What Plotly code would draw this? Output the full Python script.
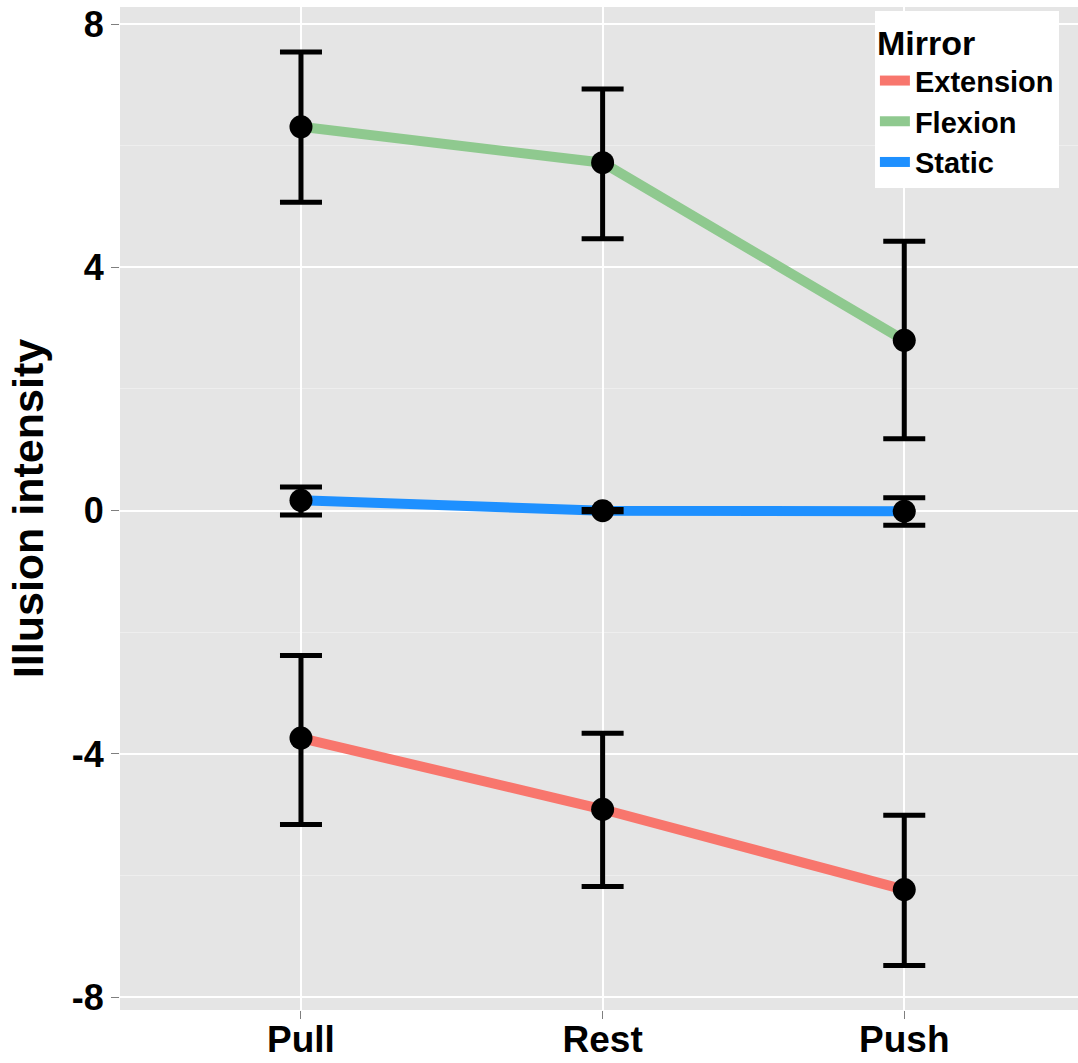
import plotly.graph_objects as go

conditions = ["Pull", "Rest", "Push"]
series = ["Extension", "Flexion", "Static"]
colors = {"Extension": "#F8766D", "Flexion": "#8FC98F", "Static": "#1E90FF"}

means = {
    "Extension": [-3.74, -4.91, -6.23],
    "Flexion": [6.31, 5.72, 2.80],
    "Static": [0.17, 0.0, -0.01],
}
err_upper = {
    "Extension": [-2.38, -3.66, -5.01],
    "Flexion": [7.54, 6.93, 4.43],
    "Static": [0.39, 0.02, 0.21],
}
err_lower = {
    "Extension": [-5.16, -6.18, -7.48],
    "Flexion": [5.07, 4.47, 1.18],
    "Static": [-0.07, -0.02, -0.24],
}
y_ticks = [-8, -4, 0, 4, 8]
y_ticklabels = ["-8", "-4", "0", "4", "8"]

FONT = "Liberation Sans"
fig = go.Figure()

for s in series:
    fig.add_trace(go.Scatter(
        x=conditions, y=means[s], mode="lines", name=s,
        line=dict(color=colors[s], width=10), showlegend=True,
    ))

for s in series:
    up = [u - m for u, m in zip(err_upper[s], means[s])]
    lo = [m - l for l, m in zip(err_lower[s], means[s])]
    fig.add_trace(go.Scatter(
        x=conditions, y=means[s], mode="markers", showlegend=False,
        marker=dict(color="black", size=23),
        error_y=dict(type="data", symmetric=False, array=up, arrayminus=lo,
                     color="black", thickness=5, width=21),
    ))

fig.update_layout(
    width=1078, height=1063,
    margin=dict(l=120, r=0, t=7, b=53),
    paper_bgcolor="white", plot_bgcolor="#E5E5E5",
    font=dict(family=FONT, color="black"),
    legend=dict(
        title=dict(text="<b>Mirror</b>", font=dict(size=34, family=FONT)),
        font=dict(size=29, family=FONT, weight="bold"),
        x=0.788, xanchor="left", y=0.996, yanchor="top",
        bgcolor="white", borderwidth=0, itemwidth=30,
    ),
    xaxis=dict(
        range=[-0.6, 2.576], showgrid=True, gridcolor="white", gridwidth=2,
        ticks="outside", ticklen=8, tickcolor="#7F7F7F", tickwidth=1,
        tickfont=dict(size=37, family=FONT, weight="bold"),
        ticklabelstandoff=-11,
        zeroline=False, showline=False, automargin=False,
    ),
    yaxis=dict(
        range=[-8.21, 8.28], tickvals=y_ticks, ticktext=y_ticklabels,
        showgrid=True, gridcolor="white", gridwidth=2,
        ticks="outside", ticklen=8, tickcolor="#7F7F7F", tickwidth=1,
        tickfont=dict(size=36, family=FONT, weight="bold"),
        minor=dict(tickvals=[-6, -2, 2, 6], showgrid=True, gridcolor="#EEEEEE", gridwidth=1, ticks=""),
        zeroline=False, showline=False, automargin=False,
        title=dict(text="<b>Illusion intensity</b>", font=dict(size=43, family=FONT), standoff=14),
    ),
)

fig.write_html("out.html", config={"displayModeBar": False},
               post_script="document.body.style.margin='0px';")
